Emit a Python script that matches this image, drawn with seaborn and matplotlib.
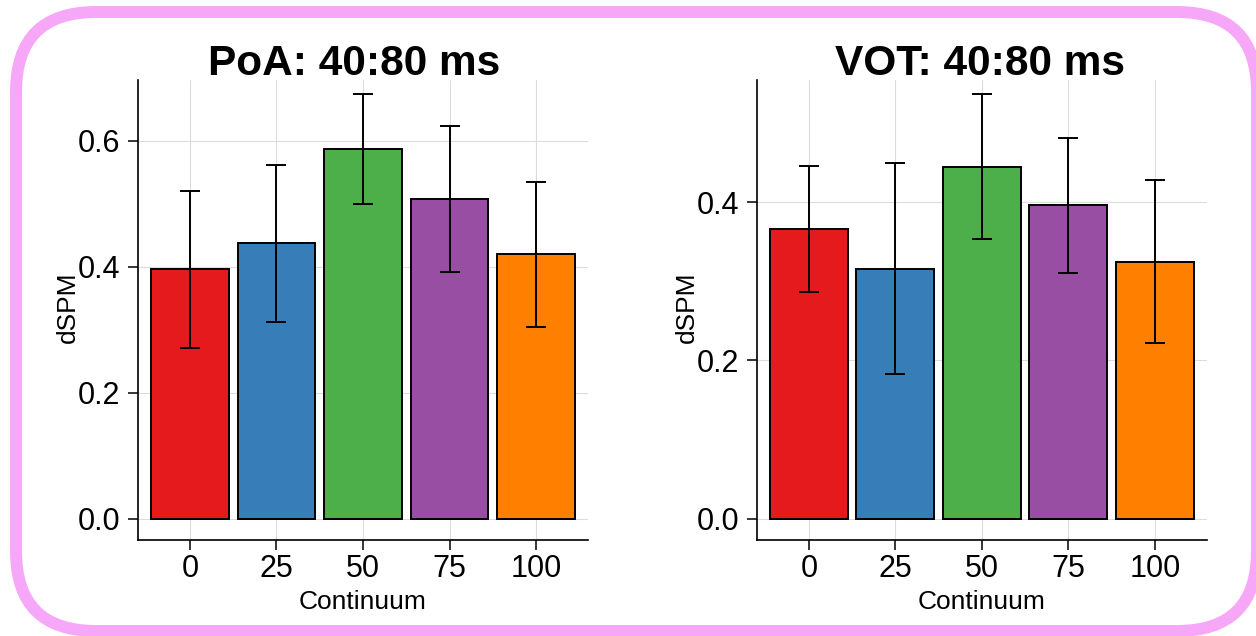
import matplotlib
matplotlib.use("Agg")
import matplotlib.pyplot as plt
import seaborn as sns
import pandas as pd
from matplotlib.patches import FancyBboxPatch
from matplotlib.transforms import IdentityTransform

# ---- data ----
continuum = ["0", "25", "50", "75", "100"]
colors = ["#E41A1C", "#377EB8", "#4DAF4A", "#984EA3", "#FF7F00"]

poa_title = "PoA: 40:80 ms"
poa_mean = [0.396, 0.437, 0.587, 0.508, 0.420]
poa_err = [0.125, 0.124, 0.087, 0.116, 0.115]

vot_title = "VOT: 40:80 ms"
vot_mean = [0.366, 0.316, 0.445, 0.396, 0.325]
vot_err = [0.080, 0.133, 0.092, 0.085, 0.103]

poa_yticks = [0.0, 0.2, 0.4, 0.6]
vot_yticks = [0.0, 0.2, 0.4]

W, H = 1256, 636
DPI = 100
sns.set_style("white")
plt.rcParams["font.family"] = ["Liberation Sans", "DejaVu Sans"]
plt.rcParams["text.color"] = "black"
plt.rcParams["axes.labelcolor"] = "black"

fig = plt.figure(figsize=(W / DPI, H / DPI), dpi=DPI)
fig.patch.set_facecolor("white")

def px_rect(x0, x1, ytop, ybot):
    return [x0 / W, 1 - ybot / H, (x1 - x0) / W, (ybot - ytop) / H]

panels = [
    dict(rect=px_rect(138, 588, 80.3, 540), title=poa_title, mean=poa_mean,
         err=poa_err, yticks=poa_yticks, ylim=(-0.0337, 0.696), tx=354),
    dict(rect=px_rect(757, 1206.7, 80.3, 540), title=vot_title, mean=vot_mean,
         err=vot_err, yticks=vot_yticks, ylim=(-0.0268, 0.554), tx=980),
]

for p in panels:
    ax = fig.add_axes(p["rect"])
    df = pd.DataFrame({"Continuum": continuum, "dSPM": p["mean"]})
    sns.barplot(data=df, x="Continuum", y="dSPM", hue="Continuum",
                order=continuum, hue_order=continuum, palette=colors,
                legend=False, width=0.9, edgecolor="black", linewidth=1.4,
                errorbar=None, saturation=1, ax=ax)
    ax.errorbar(x=list(range(len(continuum))), y=p["mean"], yerr=p["err"],
                fmt="none", ecolor="black", elinewidth=1.4, capsize=7.2,
                capthick=1.4, zorder=5)
    ax.set_xlim(-0.6, 4.6)
    ax.set_ylim(*p["ylim"])
    ax.set_yticks(p["yticks"])
    ax.set_yticklabels([f"{v:.1f}" for v in p["yticks"]])
    ax.set_axisbelow(True)
    ax.grid(True, color="#dcdcdc", linewidth=0.8)
    for s in ["top", "right"]:
        ax.spines[s].set_visible(False)
    for s in ["left", "bottom"]:
        ax.spines[s].set_color("black")
        ax.spines[s].set_linewidth(1.2)
    ax.tick_params(axis="both", which="both", length=7.2, width=1.1,
                   color="black", labelsize=22, labelcolor="black",
                   left=True, bottom=True)
    ax.tick_params(axis="y", pad=5.8)
    ax.tick_params(axis="x", pad=3)
    ax.set_ylabel("dSPM", fontsize=19, color="black")
    ax.set_xlabel("Continuum", fontsize=19, color="black")
    ax.yaxis.set_label_coords(-0.13, 0.5065)
    ax.xaxis.set_label_coords(0.5, -0.109)
    fig.text(p["tx"] / W, 1 - 75 / H, p["title"], fontsize=30.5,
             fontweight="bold", ha="center", va="baseline", color="black")

# pink rounded frame (pixel coordinates)
frame = FancyBboxPatch((16, H - 631), 1257 - 16, 631 - 12,
                       boxstyle="round,pad=0,rounding_size=80",
                       transform=IdentityTransform(), fill=False,
                       edgecolor="#F7A7F7", linewidth=8.6)
fig.patches.append(frame)

fig.savefig("out.png", dpi=DPI)
